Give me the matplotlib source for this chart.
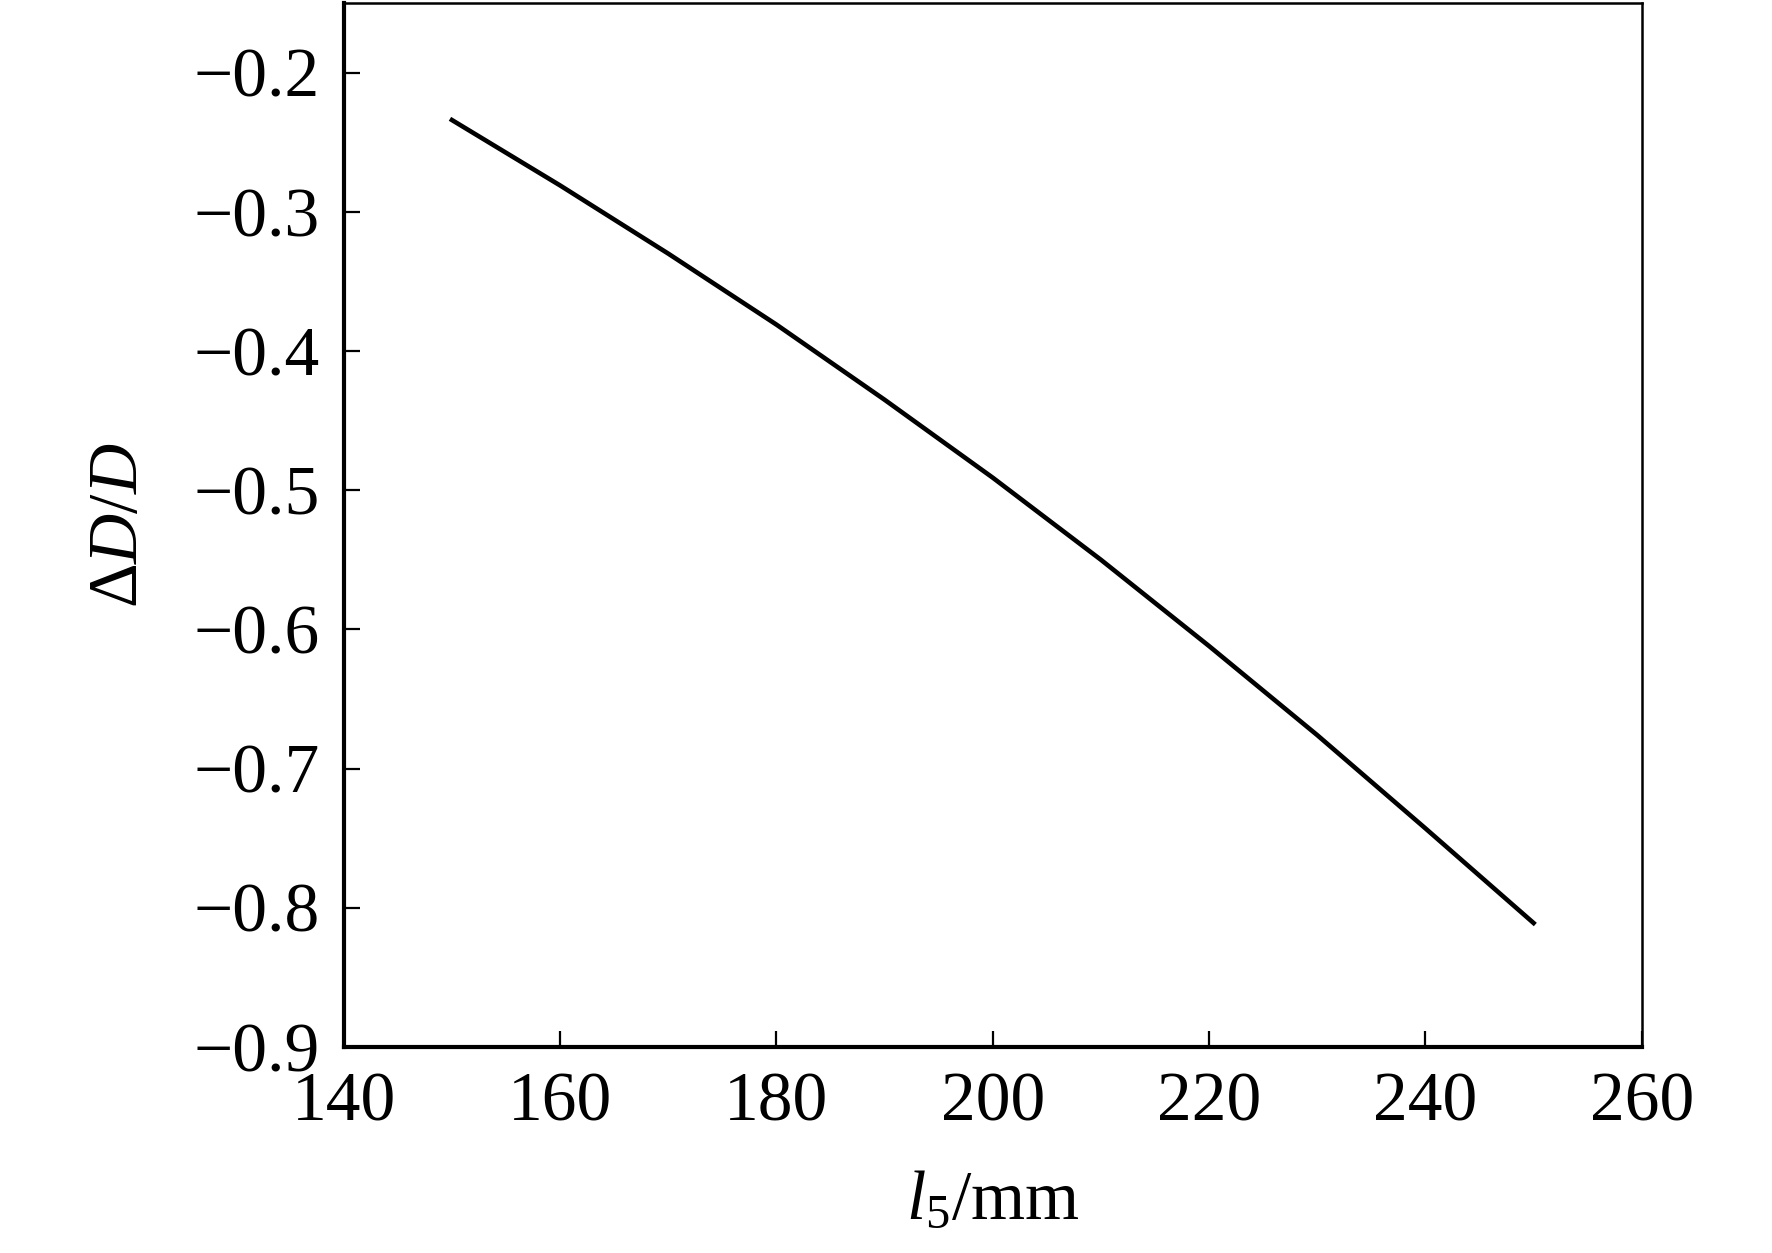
import matplotlib
matplotlib.use("Agg")
import matplotlib.pyplot as plt

# Serif look like the reference (Times-like)
plt.rcParams['font.family'] = ['Liberation Serif', 'DejaVu Serif']
plt.rcParams['mathtext.fontset'] = 'custom'
plt.rcParams['mathtext.rm'] = 'Liberation Serif'
plt.rcParams['mathtext.it'] = 'Liberation Serif:italic'

# data
l5 = [150, 160, 170, 180, 190, 200, 210, 220, 230, 240, 250]
dD = [-0.234, -0.281, -0.330, -0.381, -0.435, -0.491, -0.550, -0.612,
      -0.676, -0.743, -0.811]

x_ticks = [140, 160, 180, 200, 220, 240, 260]
y_ticks = [-0.9, -0.8, -0.7, -0.6, -0.5, -0.4, -0.3, -0.2]

fig = plt.figure(figsize=(17.72, 12.53), dpi=100)
ax = fig.add_axes([0.194, 0.1645, 0.7325, 0.833])

ax.plot(l5, dD, color='black', linewidth=3.3, solid_joinstyle='round')

ax.set_xlim(140, 260)
ax.set_ylim(-0.9, -0.15)
ax.set_xticks(x_ticks)
ax.set_yticks(y_ticks)
ax.set_yticklabels(['\u2212%.1f' % abs(v) for v in y_ticks])

ax.tick_params(direction='in', length=11.5, width=1.6, labelsize=50,
               top=False, right=False)
ax.tick_params(axis='y', pad=17)
ax.tick_params(axis='x', pad=18)

ax.spines['left'].set_linewidth(3)
ax.spines['bottom'].set_linewidth(3)
ax.spines['top'].set_linewidth(1.8)
ax.spines['right'].set_linewidth(1.8)

ax.set_xlabel('$l_5$/mm', fontsize=50)
ax.set_ylabel(r'$\Delta \mathit{D}/\mathit{D}$', fontsize=50)
ax.xaxis.set_label_coords(0.5, -0.118)
ax.yaxis.set_label_coords(-0.148, 0.5)

fig.savefig('out.png', dpi=100)
